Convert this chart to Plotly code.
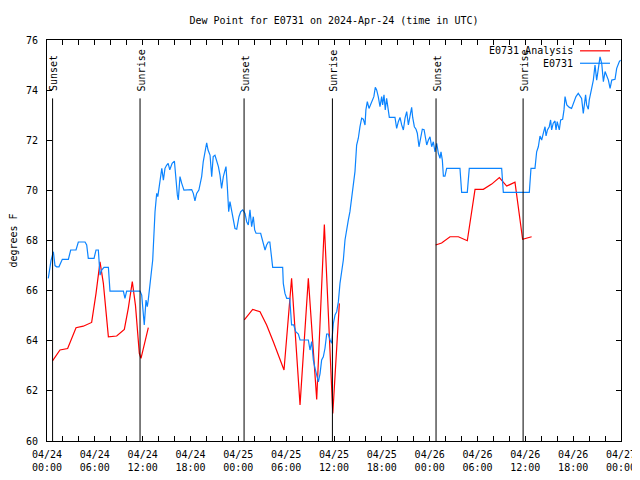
import pandas as pd
import plotly.graph_objects as go

BASE = pd.Timestamp("2024-04-24 00:00")

TITLE = "Dew Point for E0731 on 2024-Apr-24 (time in UTC)"
Y_TITLE = "degrees F"
SERIES_NAMES = ["E0731 Analysis", "E0731"]
SERIES_COLORS = ["#ff0000", "#0b84ff"]

# E0731 observations: hours after 2024-04-24 00:00 UTC, dew point (F)
obs_hours = [
    0.16, 0.5, 0.8, 1.0, 1.2, 1.5, 1.92, 2.68, 2.97, 3.64, 3.93, 4.77, 4.98, 5.18, 5.9,
    6.15, 6.44, 6.65, 6.86, 7.15, 7.7, 7.9, 9.58, 9.78, 9.99, 11.67, 11.88, 12.08, 12.2,
    12.42, 12.58, 12.7, 13.0, 13.26, 13.55, 13.76, 13.9, 14.09, 14.26, 14.4, 14.6, 14.8,
    15.0, 15.2, 15.4, 15.7, 15.98, 16.18, 16.35, 16.47, 16.68, 16.9, 17.18, 18.15, 18.35,
    18.56, 18.77, 19.05, 19.4, 19.6, 19.82, 20.03, 20.2, 20.45, 20.66, 20.85, 21.07, 21.28,
    21.5, 21.7, 21.9, 22.12, 22.3, 22.45, 22.62, 22.79, 22.95, 23.15, 23.37, 23.58, 23.8,
    24.08, 24.3, 24.55, 24.84, 25.05, 25.25, 25.46, 25.67, 25.88, 26.05, 26.22, 26.8, 27.0,
    27.35, 27.55, 27.76, 27.95, 28.18, 28.31, 29.56, 29.64, 29.85, 30.07, 30.45, 30.55,
    30.68, 30.95, 31.2, 31.53, 31.74, 32.78, 32.99, 33.2, 33.41, 33.62, 33.83, 34.04, 34.25,
    34.45, 34.66, 34.87, 35.08, 35.29, 35.5, 35.71, 35.92, 36.13, 36.34, 36.55, 36.75, 36.96,
    37.17, 37.38, 37.59, 37.8, 38.0, 38.21, 38.42, 38.63, 38.84, 39.05, 39.26, 39.47, 39.68,
    39.89, 40.0, 40.18, 40.39, 40.6, 40.85, 41.0, 41.18, 41.35, 41.55, 41.77, 41.98, 42.1,
    42.27, 42.43, 42.6, 42.82, 42.94, 43.65, 43.86, 44.07, 44.28, 44.49, 44.7, 44.91, 45.12,
    45.33, 45.54, 45.74, 45.87, 46.08, 46.29, 46.45, 46.66, 46.87, 47.08, 47.3, 47.5, 47.63,
    47.84, 48.04, 48.25, 48.46, 48.67, 48.88, 49.09, 49.3, 49.42, 49.59, 49.72, 49.92, 50.13,
    51.8, 52.01, 52.72, 52.97, 57.03, 57.24, 60.5, 60.71, 61.21, 61.42, 61.63, 61.84, 62.05,
    62.26, 62.47, 62.6, 62.77, 63.0, 63.17, 63.3, 63.5, 63.72, 63.85, 64.0, 64.26, 64.43,
    64.68, 64.85, 64.98, 65.2, 65.52, 65.8, 66.1, 66.35, 66.64, 66.85, 67.06, 67.27, 67.4,
    67.56, 67.69, 67.9, 68.02, 68.19, 68.32, 68.53, 68.74, 68.95, 69.16, 69.37, 69.58, 69.79,
    70.0, 70.21, 70.42, 70.63, 70.84, 71.25, 71.46, 71.79, 71.95,
]
obs_values = [
    66.49, 67.2, 67.55, 67.0, 66.95, 66.95, 67.25, 67.25, 67.62, 67.62, 67.94, 67.94, 67.82,
    67.29, 67.29, 67.62, 67.62, 66.62, 66.82, 66.93, 66.93, 65.98, 65.98, 65.69, 65.98, 65.98,
    65.82, 64.96, 64.63, 65.62, 65.36, 65.62, 66.56, 67.22, 69.15, 69.88, 69.75, 70.28, 70.68,
    70.88, 70.41, 70.88, 71.0, 71.08, 70.82, 71.08, 71.17, 70.28, 69.82, 69.62, 70.55, 70.28,
    70.01, 70.03, 69.88, 69.58, 69.88, 70.01, 70.55, 71.15, 71.55, 71.9, 71.61, 71.41, 70.55,
    71.35, 71.4, 71.2, 70.95, 70.61, 70.08, 70.55, 70.82, 70.95, 70.15, 69.15, 69.55, 69.15,
    68.82, 68.48, 68.45, 68.95, 69.15, 69.22, 69.08, 68.75, 68.62, 69.22, 68.55, 68.95, 68.42,
    68.29, 68.29, 68.02, 67.62, 67.82, 67.94, 67.94, 67.22, 66.93, 66.93, 66.29, 65.89, 65.69,
    65.69, 65.36, 64.63, 64.63, 64.36, 64.27, 64.03, 64.03, 63.63, 63.97, 63.23, 62.9, 62.56,
    62.36, 62.69, 63.23, 63.36, 63.7, 64.27, 64.27, 64.03, 63.9, 64.69, 65.03, 65.16, 65.56,
    66.29, 66.69, 67.22, 68.02, 68.48, 68.82, 69.15, 69.62, 70.21, 70.75, 71.81, 72.08, 72.54,
    72.88, 72.84, 72.61, 73.21, 73.54, 73.27, 73.41, 73.61, 73.74, 74.11, 74.01, 73.74, 73.34,
    73.74, 73.41, 73.81, 73.21, 73.67, 73.14, 72.91, 72.91, 72.47, 72.74, 72.91, 72.61, 72.41,
    72.88, 73.14, 72.61, 72.94, 73.31, 72.91, 72.54, 72.44, 72.28, 71.74, 72.14, 72.44, 72.42,
    72.08, 71.81, 72.01, 72.14, 71.74, 71.94, 71.54, 71.88, 71.48, 71.28, 71.54, 71.21, 70.57,
    70.57, 70.88, 70.88, 69.92, 69.92, 70.88, 70.88, 69.92, 69.92, 70.88, 70.88, 71.54, 71.74,
    72.17, 72.01, 72.28, 72.54, 72.17, 72.41, 72.54, 72.81, 72.41, 72.68, 72.77, 72.41, 72.74,
    72.41, 72.81, 72.84, 73.21, 73.74, 73.41, 73.31, 73.27, 73.54, 73.74, 73.87, 73.74, 73.67,
    73.07, 73.54, 73.81, 73.41, 73.24, 73.61, 73.94, 74.07, 74.4, 75.0, 74.4, 74.8, 75.33,
    75.07, 74.34, 74.74, 74.54, 74.4, 74.07, 74.4, 74.43, 74.87, 75.14, 75.2,
]

# E0731 Analysis (None = no analysis available)
ana_hours = [
    0.67, 1.63, 2.59, 3.64, 4.55, 5.6, 6.15, 6.65, 7.07, 7.7, 8.74, 9.7, 10.2, 10.7, 11.1,
    11.58, 11.79, 12.71, 18.0,
    24.75, 25.8, 26.72, 27.55, 28.39, 29.23, 29.73, 30.68, 31.74, 32.78, 33.83, 34.79,
    35.75, 35.85, 36.67, 42.0,
    48.75, 49.5, 50.55, 51.6, 52.72, 53.69, 54.73, 55.78, 56.74, 57.66, 58.7, 59.66, 60.79,
]
ana_values = [
    63.19, 63.63, 63.69, 64.52, 64.58, 64.73, 65.89, 67.15, 66.29, 64.16, 64.19, 64.45, 65.3,
    66.36, 65.4, 63.5, 63.3, 64.52, None,
    64.83, 65.25, 65.16, 64.63, 63.96, 63.3, 62.83, 66.49, 61.44, 66.49, 61.66, 68.64,
    61.3, 61.1, 65.49, None,
    67.82, 67.9, 68.15, 68.15, 67.99, 70.04, 70.04, 70.25, 70.51, 70.17, 70.33, 68.05, 68.15,
]

# Sun events (hours after 2024-04-24 00:00 UTC)
sun_hours = [0.7, 11.67, 24.72, 35.8, 48.8, 59.72]
sun_labels = ["Sunset", "Sunrise", "Sunset", "Sunrise", "Sunset", "Sunrise"]

# Axis ticks
x_tick_hours = [0, 6, 12, 18, 24, 30, 36, 42, 48, 54, 60, 66, 72]
x_tick_labels = [
    "04/24<br>00:00", "04/24<br>06:00", "04/24<br>12:00", "04/24<br>18:00",
    "04/25<br>00:00", "04/25<br>06:00", "04/25<br>12:00", "04/25<br>18:00",
    "04/26<br>00:00", "04/26<br>06:00", "04/26<br>12:00", "04/26<br>18:00",
    "04/27<br>00:00",
]
y_range = [60, 76]
y_dtick = 2


def to_time(hours):
    return [BASE + pd.Timedelta(hours=h) for h in hours]


FONT = "DejaVu Sans Mono"
# page body has an 8px default margin; the figure is sized to end at the window edge
W, H = 632, 472

fig = go.Figure()
fig.add_trace(go.Scatter(x=to_time(ana_hours), y=ana_values, mode="lines",
                         line=dict(color=SERIES_COLORS[0], width=1.2),
                         name=SERIES_NAMES[0], connectgaps=False))
fig.add_trace(go.Scatter(x=to_time(obs_hours), y=obs_values, mode="lines",
                         line=dict(color=SERIES_COLORS[1], width=1.2),
                         name=SERIES_NAMES[1]))

sun_top = 73.67
for h, lab in zip(sun_hours, sun_labels):
    t = BASE + pd.Timedelta(hours=h)
    fig.add_shape(type="line", xref="x", yref="y", x0=t, x1=t, y0=y_range[0], y1=sun_top,
                  line=dict(color="black", width=1))
    fig.add_annotation(x=t, y=sun_top, xref="x", yref="y", text=lab, textangle=-90,
                       showarrow=False, xanchor="center", yanchor="bottom", yshift=5, xshift=1,
                       font=dict(family=FONT, size=10, color="black"))

# gnuplot-style legend: text on the left, line sample on the right
leg_rows = [0.973, 0.942]
for name, color, yy in zip(SERIES_NAMES, SERIES_COLORS, leg_rows):
    fig.add_annotation(x=0.919, y=yy, xref="paper", yref="paper", text=name, showarrow=False,
                       xanchor="right", yanchor="middle",
                       font=dict(family=FONT, size=10, color="black"))
    fig.add_shape(type="line", xref="paper", yref="paper", x0=0.9286, x1=0.9808, y0=yy, y1=yy,
                  line=dict(color=color, width=1.2))

fig.update_layout(
    width=W, height=H,
    margin=dict(l=39, r=19, t=32, b=39, autoexpand=False),
    paper_bgcolor="white", plot_bgcolor="white",
    showlegend=False,
    font=dict(family=FONT, size=10, color="black"),
    title=dict(text=TITLE, x=0.5, xref="paper", xanchor="center", y=1 - 12 / H,
               yanchor="middle", font=dict(family=FONT, size=10, color="black")),
)
fig.update_xaxes(
    type="date", automargin=False,
    range=[BASE, BASE + pd.Timedelta(hours=72)],
    tickmode="array", tickvals=to_time(x_tick_hours), ticktext=x_tick_labels,
    ticks="inside", ticklen=5, tickcolor="black", tickwidth=1,
    minor=dict(tickmode="linear", tick0=BASE, dtick=2 * 3600 * 1000, ticks="inside",
               ticklen=5, tickcolor="black", showgrid=False),
    showline=True, linecolor="black", linewidth=1, mirror="allticks",
    showgrid=False, zeroline=False, ticklabelstandoff=4,
    tickfont=dict(family=FONT, size=10, color="black"),
)
fig.update_yaxes(
    automargin=False,
    range=y_range, dtick=y_dtick, tick0=60,
    ticks="inside", ticklen=5, tickcolor="black", tickwidth=1,
    showline=True, linecolor="black", linewidth=1, mirror="allticks",
    showgrid=False, zeroline=False, ticklabelstandoff=6,
    tickfont=dict(family=FONT, size=10, color="black"),
    title=dict(text=Y_TITLE, standoff=7, font=dict(family=FONT, size=10, color="black")),
)

fig.write_html("out.html")
